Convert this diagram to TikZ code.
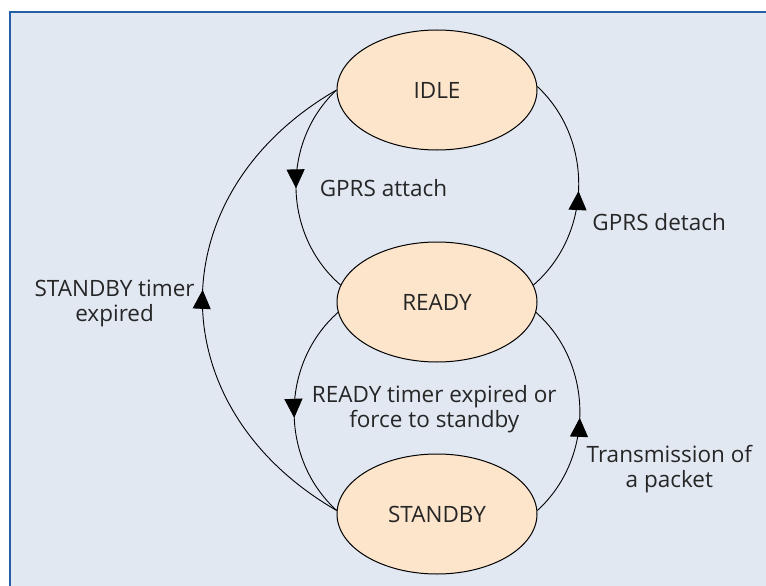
\documentclass[tikz,border=0pt]{standalone}
\usepackage{fontspec}
\setmainfont{Open Sans}
\usetikzlibrary{shapes, arrows.meta, positioning, decorations.markings}
\definecolor{bgblue}{RGB}{225,232,242}
\definecolor{frameblue}{RGB}{35,95,165}
\definecolor{peach}{RGB}{253,229,204}

\begin{document}
\begin{tikzpicture}[x=1pt, y=1pt,
  font=\fontsize{22.5}{25}\selectfont, text=black!85,
  state/.style={ellipse, draw, line width=1pt, fill=peach, minimum width=200pt, minimum height=120pt, inner sep=0pt},
  trans/.style={draw, line width=0.9pt, postaction={decorate},
    decoration={markings, mark=at position #1 with {\arrow{Triangle[width=18pt, length=19pt]}}}},
  trans/.default=0.5,
  note/.style={align=center},
  node distance=91pt]
  \useasboundingbox (0,0) rectangle (766,-586);
  \fill[bgblue] (9,-11) rectangle (766,-586);
  \draw[frameblue, line width=2pt] (10,-586) -- (10,-12) -- (766,-12);

  % states
  \node[state] (idle) at (437,-90) {IDLE};
  \node[state, below=of idle] (ready) {READY};
  \node[state, below=of ready] (standby) {STANDBY};

  % transitions
  \path[trans] (idle.west) to[bend right=48]
    node[note, right=20pt] {GPRS attach} (ready.170);
  \path[trans=0.48] (ready.10) to[bend right=48]
    node[note, right=10pt, yshift=-35pt] {GPRS detach} (idle.2);
  \path[trans=0.52] (standby.178) to[out=150, in=210, looseness=1.26]
    node[note, left=4pt, yshift=-3pt] {STANDBY timer\\expired} (idle.west);
  \path[trans=0.53] (ready.186) to[bend right=48]
    node[note, right=14pt, yshift=2pt] {READY timer expired or\\force to standby} (standby.178);
  \path[trans=0.47] (standby.2) to[bend right=48]
    node[note, right=3pt, yshift=-58pt] {Transmission of\\a packet} (ready.354);
\end{tikzpicture}
\end{document}
